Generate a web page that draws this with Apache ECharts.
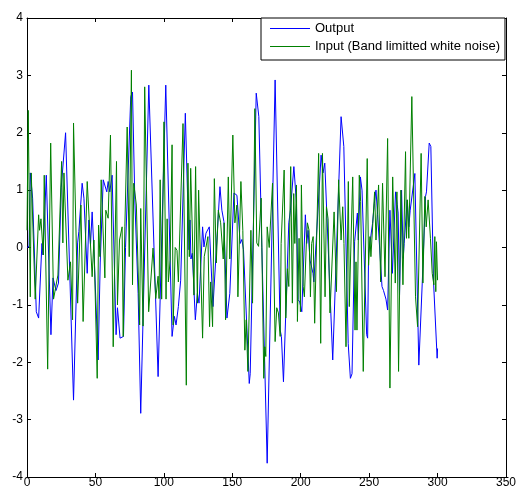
<!DOCTYPE html>
<html>
<head>
<meta charset="utf-8">
<script src="https://cdn.jsdelivr.net/npm/echarts@6/dist/echarts.min.js"></script>
<style>
  html, body { margin: 0; padding: 0; background: #fff; }
  #chart { width: 519px; height: 495px; }
</style>
</head>
<body>
<div id="chart"></div>
<script>
// Output of the system (time, value)
const outX = [0, 1.5, 2.4, 4.1, 6.8, 8.5, 10.9, 11.7, 14.1, 17.5, 19.0, 21.2, 23.0, 25.0, 28.2, 34.0,
  37.0, 37.9, 40.3, 41.6, 44.0, 45.2, 46.4, 47.6, 48.9, 50.3, 52.0, 53.5, 55.7, 57.1, 58.3, 59.3, 60.5, 62.2,
  65.1, 66.1, 68.0, 69.3, 70.5, 72.0, 75.8, 77.1, 78.8, 81.2, 83.1, 89.0, 95.8, 101.4, 106.0, 107.7, 108.9, 110.6,
  112.3, 115.7, 118.4, 119.1, 119.8, 120.8, 123.0, 124.5, 125.7, 128.3, 129.3, 130.8, 133.2, 135.9, 141.0,
  142.4, 143.9, 146.1, 148.2, 151.2, 153.4, 155.8, 157.0, 158.2, 162.4, 163.1, 167.5, 169.4, 171.6, 175.5,
  181.3, 185.0, 185.9, 187.4, 191.3, 192.5, 195.0, 196.9, 198.1, 199.3, 200.8, 203.4, 204.4, 205.4, 206.8,
  208.0, 209.0, 209.6, 214.9, 216.3, 217.6, 223.4, 229.5, 231.5, 234.7, 236.3, 237.5, 239.4, 240.4, 241.4, 242.1,
  243.6, 244.8, 248.2, 248.9, 249.6, 252.5, 253.8, 255.0, 256.2, 259.4, 260.5, 262.3, 263.5, 265.2, 267.0,
  269.3, 270.5, 271.2, 272.2, 273.7, 274.9, 275.6, 277.8, 279.0, 280.0, 283.4, 286.3, 288.8, 291.2, 291.9,
  293.9, 295.1, 297.0, 299.7, 300.0];
const outY = [0.0, 0.02, 1.3, 0.86, -1.12, -1.23, 0.07, -0.13, 1.26, -1.52, -0.53, -0.75, -0.62, 1.04, 2.0, -2.66,
  0.08, 0.28, 1.12, 0.86, -0.45, 0.48, 0.05, 0.62, -0.04, -0.06, -1.96, -0.27, 1.18, 1.21, 0.97, 1.15, 0.97, 1.26,
  -1.52, -1.05, -1.58, -1.6, -1.55, 0.0, 2.63, 2.71, 0.83, -0.8, -2.89, 2.83, -2.25, 2.83, -1.55, -1.2, -1.35, -1.03,
  -0.57, 2.34, -0.04, 0.48, -0.2, -0.1, -1.26, -0.8, -0.97, 0.36, 0.01, 0.25, 0.36, -1.03, 1.06,
  0.65, 0.45, -1.23, -0.8, 0.95, 0.91, 0.07, 0.14, -0.04, -2.37, -2.2, 2.69, 2.28, 0.0, -3.76,
  2.92, -1.44, -1.55, -2.34, 0.43, 0.65, 1.41, 0.77, -0.91, -0.95, -1.12, 0.57, 0.07, 0.3, -0.22,
  -0.2, -0.45, -0.6, 1.61, 1.3, 1.47, -1.96, 2.28, 1.76, -1.67, -2.28, -2.2, 0.1, 0.1, 0.6, 0.13,
  1.23, 1.0, -1.52, -1.58, -0.1, 0.42, 0.77, 1.0, 0.57, -0.68, -0.75, -0.9, -1.09, 0.65, -0.45,
  0.97, 0.75, 0.6, -0.83, 1.0, -0.19, 0.07, 0.83, 0.36, 0.65, 1.29, -2.05, -0.62, 0.89, 0.97,
  1.82, 1.76, -0.57, -1.93, -1.76];

// Band limited white noise input (time, value)
const inX = [0, 0.9, 2.4, 3.1, 6.0, 8.5, 9.2, 10.2, 11.4, 11.9, 12.6, 15.1, 17.3, 19.4, 20.6, 22.6, 25.3, 26.2,
  27.0, 29.9, 31.8, 33.3, 34.0, 37.0, 39.4, 41.0, 44.0, 47.6, 48.9, 51.3, 52.3, 53.3, 54.2, 56.9, 57.6, 59.3,
  61.0, 63.0, 65.4, 66.1, 67.6, 69.5, 70.3, 71.5, 73.2, 74.7, 76.3, 77.1, 78.0, 79.9, 82.3, 83.1, 84.8, 86.0,
  88.9, 92.1, 94.1, 95.8, 96.5, 97.3, 98.4, 100.1, 101.6, 102.4, 103.3, 104.6, 106.0, 106.8, 108.3,
  109.6, 110.6, 111.3, 114.0, 116.4, 117.6, 118.6, 119.6, 122.0, 123.2, 124.5, 125.4, 128.3, 129.5, 130.8,
  132.2, 133.4, 134.2, 135.6, 136.9, 138.3, 139.8, 141.5, 143.4, 144.1, 145.1, 147.1, 148.2, 150.4, 151.9,
  153.4, 154.1, 156.3, 157.7, 159.2, 160.2, 161.4, 163.6, 164.8, 166.5, 167.9, 169.2, 171.1, 173.0, 173.8,
  174.5, 175.5, 177.0, 177.7, 179.4, 181.3, 182.5, 183.7, 185.0, 185.7, 187.9, 189.1, 190.3, 191.3, 192.7,
  193.9, 194.9, 195.7, 196.9, 197.6, 198.8, 199.8, 200.5, 201.8, 202.7, 204.2, 204.9, 206.1, 207.1, 208.0,
  209.1, 210.2, 213.1, 214.6, 215.9, 217.8, 218.8, 220.0, 221.4, 224.4, 226.1, 227.7, 229.5, 230.7, 231.6,
  233.1, 234.8, 235.5, 238.0, 239.7, 240.4, 241.1, 242.8, 243.8, 245.7, 248.6, 249.6, 250.6, 251.3, 254.0,
  255.0, 256.9, 258.4, 259.8, 261.6, 263.5, 265.2, 267.2, 269.1, 270.3, 271.5, 273.2, 274.7, 276.6, 277.3,
  278.0, 279.0, 281.2, 283.9, 285.4, 288.0, 289.3, 290.7, 291.7, 293.1, 294.8, 296.1, 297.3, 298.0, 298.7,
  299.2, 300.0];
const inY = [0.3, 2.39, -0.86, 1.3, -0.9, 0.57, 0.3, 0.5, 0.5, -0.13, 1.26, -2.12, 1.82, -0.9, -0.74, -0.48, 1.5, 0.08,
  1.3, -0.57, -0.25, -1.26, 2.17, -0.97, 0.74, -1.29, 1.15, -0.51, 0.13, -2.28, 0.39, -0.16, 1.18, -0.53, 0.65, 0.51,
  1.96, -1.73, 1.5, -1.0, 0.13, 0.36, -1.55, 0.36, 2.1, -0.16, 3.09, -0.65, 1.12, 0.74, -1.35, 0.68, -1.37, 2.8,
  -1.12, -0.01, -0.89, -0.5, -0.89, 1.18, -0.9, 2.19, -0.9, 0.5, -0.6, -0.22, 1.79, -1.35, 0.0,
  -0.05, -0.6, -0.6, 2.16, -2.4, 1.47, -0.16, 1.38, -0.83, 1.41, -0.97, 1.0, -1.58, -0.16, -0.13,
  0.19, -1.38, -0.6, -1.38, 1.2, -0.27, 0.65, 0.43, -0.2, 0.43, -1.26, 1.23, -0.2, 1.96, 0.43,
  0.74, -0.86, 1.15, 0.3, -1.79, -1.26, -2.16, 0.3, -0.97, 2.42, 0.08, 0.02, 0.86, -2.28, -1.73,
  -1.9, 0.36, 0.0, 0.0, 1.12, -1.64, -1.05, -1.14, -1.55, 0.07, 1.35, -1.23, -0.37, -0.68, 1.41,
  -0.97, 0.94, 0.07, 1.09, -1.29, 0.16, -1.12, 1.09, -0.68, -0.86, 0.13, 0.43, 0.3, -0.86, 0.07,
  0.19, -1.32, 1.64, -1.67, 1.64, -0.86, 0.71, 0.5, -1.14, 0.62, -0.77, 1.18, 0.13, 0.71, 0.07,
  -1.73, 1.15, -1.03, 1.23, -1.44, -0.25, -1.44, 1.26, 0.8, -2.16, 1.55, -0.31, 0.19, -0.16, 0.97,
  0.13, 1.09, -0.6, 1.12, -0.51, 1.9, -2.45, 1.23, -0.62, 0.97, -2.16, 1.0, -0.65, 1.67, 0.16,
  0.83, 0.16, 2.63, -0.86, -1.38, 1.64, -0.62, 0.89, 0.36, 0.83, 0.16, -0.45, -0.65, 0.19, -0.77,
  0.1, -0.57];

const seriesNames = ['Output', 'Input (Band limitted white noise)'];
const seriesColors = ['#0000ff', '#008000'];

const zip = (xs, ys) => xs.map((x, i) => [x, ys[i]]);

const font = 'Liberation Sans, Arial, sans-serif';
const tickStyle = { show: true, inside: true, length: 4, lineStyle: { color: '#000', width: 1 } };
const lineStyle = { show: true, onZero: false, lineStyle: { color: '#000', width: 1 } };

const chart = echarts.init(document.getElementById('chart'), null, { renderer: 'canvas' });
chart.setOption({
  animation: false,
  backgroundColor: '#ffffff',
  grid: { left: 27, right: 11, top: 18, bottom: 18, containLabel: false },
  legend: {
    orient: 'vertical',
    left: 261,
    top: 18,
    data: seriesNames.map((name, i) => ({
      name,
      icon: 'rect',
      itemStyle: { color: seriesColors[i], borderWidth: 0 }
    })),
    backgroundColor: '#ffffff',
    borderColor: '#000',
    borderWidth: 1,
    borderRadius: 0,
    padding: [3, 5, 6, 9],
    itemGap: 3,
    itemWidth: 40,
    itemHeight: 1,
    textStyle: { fontFamily: font, fontSize: 13, lineHeight: 15, color: '#000' }
  },
  xAxis: [
    {
      type: 'value', position: 'bottom', min: 0, max: 350, interval: 50,
      axisLine: lineStyle, axisTick: tickStyle, splitLine: { show: false },
      axisLabel: { fontFamily: font, fontSize: 12, color: '#000', margin: 0 }
    },
    {
      type: 'value', position: 'top', min: 0, max: 350, interval: 50,
      axisLine: lineStyle, axisTick: tickStyle, splitLine: { show: false },
      axisLabel: { show: false }
    }
  ],
  yAxis: [
    {
      type: 'value', position: 'left', min: -4, max: 4, interval: 1,
      axisLine: lineStyle, axisTick: tickStyle, splitLine: { show: false },
      axisLabel: { fontFamily: font, fontSize: 12, color: '#000', margin: 4 }
    },
    {
      type: 'value', position: 'right', min: -4, max: 4, interval: 1,
      axisLine: lineStyle, axisTick: tickStyle, splitLine: { show: false },
      axisLabel: { show: false }
    }
  ],
  series: [
    {
      name: seriesNames[0], type: 'line', data: zip(outX, outY),
      showSymbol: false, symbol: 'none',
      lineStyle: { color: seriesColors[0], width: 1 }, itemStyle: { color: seriesColors[0] }
    },
    {
      name: seriesNames[1], type: 'line', data: zip(inX, inY),
      showSymbol: false, symbol: 'none',
      lineStyle: { color: seriesColors[1], width: 1 }, itemStyle: { color: seriesColors[1] }
    }
  ]
});
</script>
</body>
</html>
